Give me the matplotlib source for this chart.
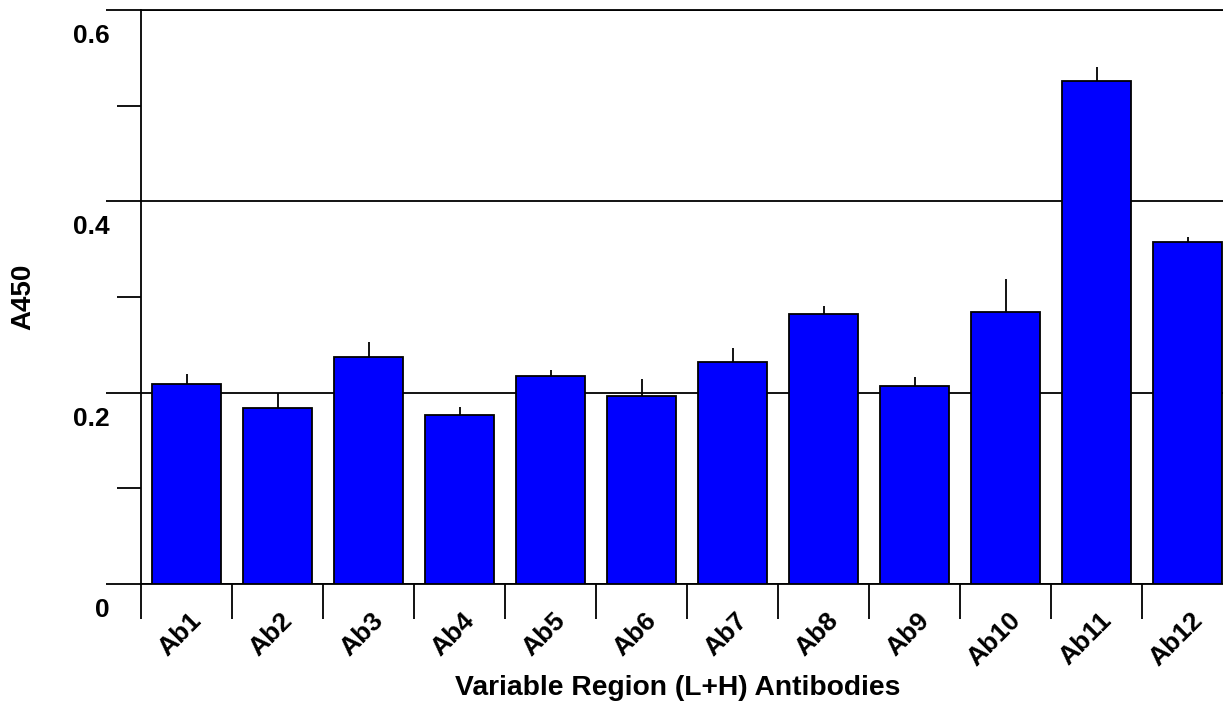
import numpy as np
import matplotlib.pyplot as plt
from matplotlib.ticker import MultipleLocator

antibodies = ['Ab1', 'Ab2', 'Ab3', 'Ab4', 'Ab5', 'Ab6', 'Ab7', 'Ab8', 'Ab9', 'Ab10', 'Ab11', 'Ab12']
a450 = [0.209, 0.184, 0.237, 0.177, 0.217, 0.197, 0.232, 0.282, 0.207, 0.284, 0.526, 0.357]
a450_err = [0.011, 0.016, 0.016, 0.008, 0.007, 0.017, 0.015, 0.009, 0.009, 0.035, 0.014, 0.006]
ytick_vals = [0, 0.2, 0.4, 0.6]
ytick_labels = ['0', '0.2', '0.4', '0.6']

plt.rcParams['font.family'] = ['Liberation Sans', 'DejaVu Sans']
plt.rcParams['font.weight'] = 'bold'

W, H = 1223, 708
fig = plt.figure(figsize=(W / 100, H / 100), dpi=100)
# right edge of the last category lies past the image edge
ax = fig.add_axes([141 / W, (H - 584) / H, (1233 - 141) / W, (584 - 10) / H])

x = np.arange(len(antibodies)) + 0.5
ax.bar(x, a450, width=0.76, color='#0000ff', edgecolor='black', linewidth=1.3, zorder=3)
ax.errorbar(x, a450, yerr=[np.zeros(len(a450)), a450_err], fmt='none',
            ecolor='black', elinewidth=1.3, capsize=0, zorder=2)

ax.set_xlim(0, len(antibodies))
ax.set_ylim(0, 0.6)

ax.spines['right'].set_visible(False)
for s in ['left', 'top', 'bottom']:
    ax.spines[s].set_linewidth(1.3)

# y axis: long outward major ticks + gridlines, shorter minor ticks
ax.set_yticks(ytick_vals)
ax.yaxis.set_minor_locator(MultipleLocator(0.1))
ax.tick_params(axis='y', which='major', direction='out', length=25, width=1.3, labelleft=False)
ax.tick_params(axis='y', which='minor', direction='out', length=17, width=1.3)
ax.grid(axis='y', which='major', color='black', linewidth=1.3, zorder=1)
ax.set_axisbelow(True)
for v, lab in zip(ytick_vals, ytick_labels):
    ax.annotate(lab, xy=(0, v), xycoords=('axes fraction', 'data'),
                xytext=(-31, -26), textcoords='offset pixels',
                ha='right', va='center', fontsize=19, fontweight='bold')

# x axis: ticks at category boundaries, labels at centres
ax.set_xticks(np.arange(len(antibodies) + 1))
ax.tick_params(axis='x', which='major', direction='out', length=25, width=1.3, labelbottom=False)
for xi, lab in zip(x, antibodies):
    ax.annotate(lab, xy=(xi, 0), xycoords=('data', 'axes fraction'),
                xytext=(3, -24), textcoords='offset pixels',
                ha='right', va='top', rotation=45, rotation_mode='anchor',
                fontsize=19, fontweight='bold')

fig.text(678 / W, 1 - 688 / H, 'Variable Region (L+H) Antibodies',
         ha='center', va='center', fontsize=20.3, fontweight='bold')
fig.text(23 / W, 1 - 297 / H, 'A450', rotation=90,
         ha='center', va='center', fontsize=20, fontweight='bold')

fig.savefig('out.png', dpi=100)
